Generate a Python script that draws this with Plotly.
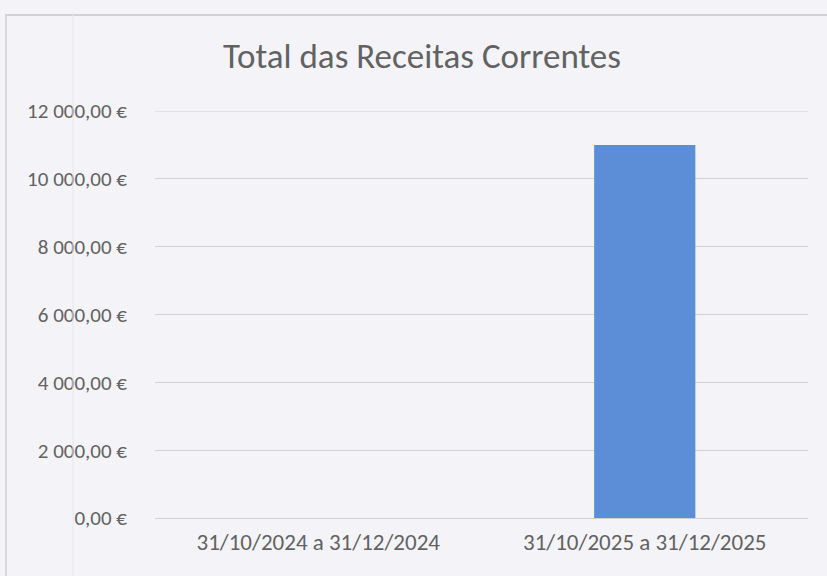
import plotly.graph_objects as go

categories = ["31/10/2024 a 31/12/2024", "31/10/2025 a 31/12/2025"]
values = [0, 11000]
tick_values = [0, 2000, 4000, 6000, 8000, 10000, 12000]
tick_labels = ["0,00 €", "2 000,00 €", "4 000,00 €", "6 000,00 €",
               "8 000,00 €", "10 000,00 €", "12 000,00 €"]

W, H = 827, 576
L, R, T, B = 155, 19, 111, 58
FONT = "Carlito, Calibri, Lato, sans-serif"
TXT = "#626262"
BG = "#f4f4f8"
GRID = "#cfcfd4"

fig = go.Figure(go.Bar(
    x=categories, y=values, width=0.31,
    marker=dict(color="#5b8ed6", line=dict(width=0)),
    hoverinfo="skip",
))

pw, ph = W - L - R, H - T - B
def px(x):
    return (x - L) / pw
def py(y):
    return (H - B - y) / ph

shapes = [
    dict(type="line", xref="paper", yref="paper", x0=px(5), x1=px(827), y0=py(15), y1=py(15),
         line=dict(color="#c9c9cc", width=1.5)),
    dict(type="line", xref="paper", yref="paper", x0=px(6), x1=px(6), y0=py(15), y1=py(576),
         line=dict(color="#d0d0d4", width=1.5)),
    dict(type="line", xref="paper", yref="paper", x0=px(73), x1=px(73), y0=py(15), y1=py(576),
         line=dict(color="#e8e8ec", width=1)),
    # top gridline (plotly drops gridlines lying on the plot edge)
    dict(type="line", xref="paper", yref="y", x0=0, x1=1,
         y0=tick_values[-1], y1=tick_values[-1], layer="below",
         line=dict(color=GRID, width=1.2)),
]

fig.update_layout(
    width=W, height=H,
    margin=dict(l=L, r=R, t=T, b=B, pad=0),
    paper_bgcolor=BG, plot_bgcolor=BG,
    showlegend=False,
    title=dict(text="Total das Receitas Correntes", x=422 / W, xanchor="center",
               y=1 - 56 / H, yanchor="middle", yref="container",
               font=dict(family=FONT, size=35, color=TXT)),
    xaxis=dict(showgrid=False, showline=False, zeroline=False, ticks="",
               tickfont=dict(family=FONT, size=23, color=TXT), ticklabelstandoff=8),
    yaxis=dict(range=[0, tick_values[-1]], tickvals=tick_values, ticktext=tick_labels,
               showgrid=True, gridcolor=GRID, gridwidth=1.2, zeroline=True,
               zerolinecolor=GRID, zerolinewidth=1.2, showline=False, ticks="",
               tickfont=dict(family=FONT, size=21, color=TXT), ticklabelstandoff=27),
    shapes=shapes,
)

fig.write_html("out.html", config={"displayModeBar": False}, post_script=(
    "document.body.style.margin='0';document.body.style.padding='0';"
    "document.body.style.background='" + BG + "';"
))
